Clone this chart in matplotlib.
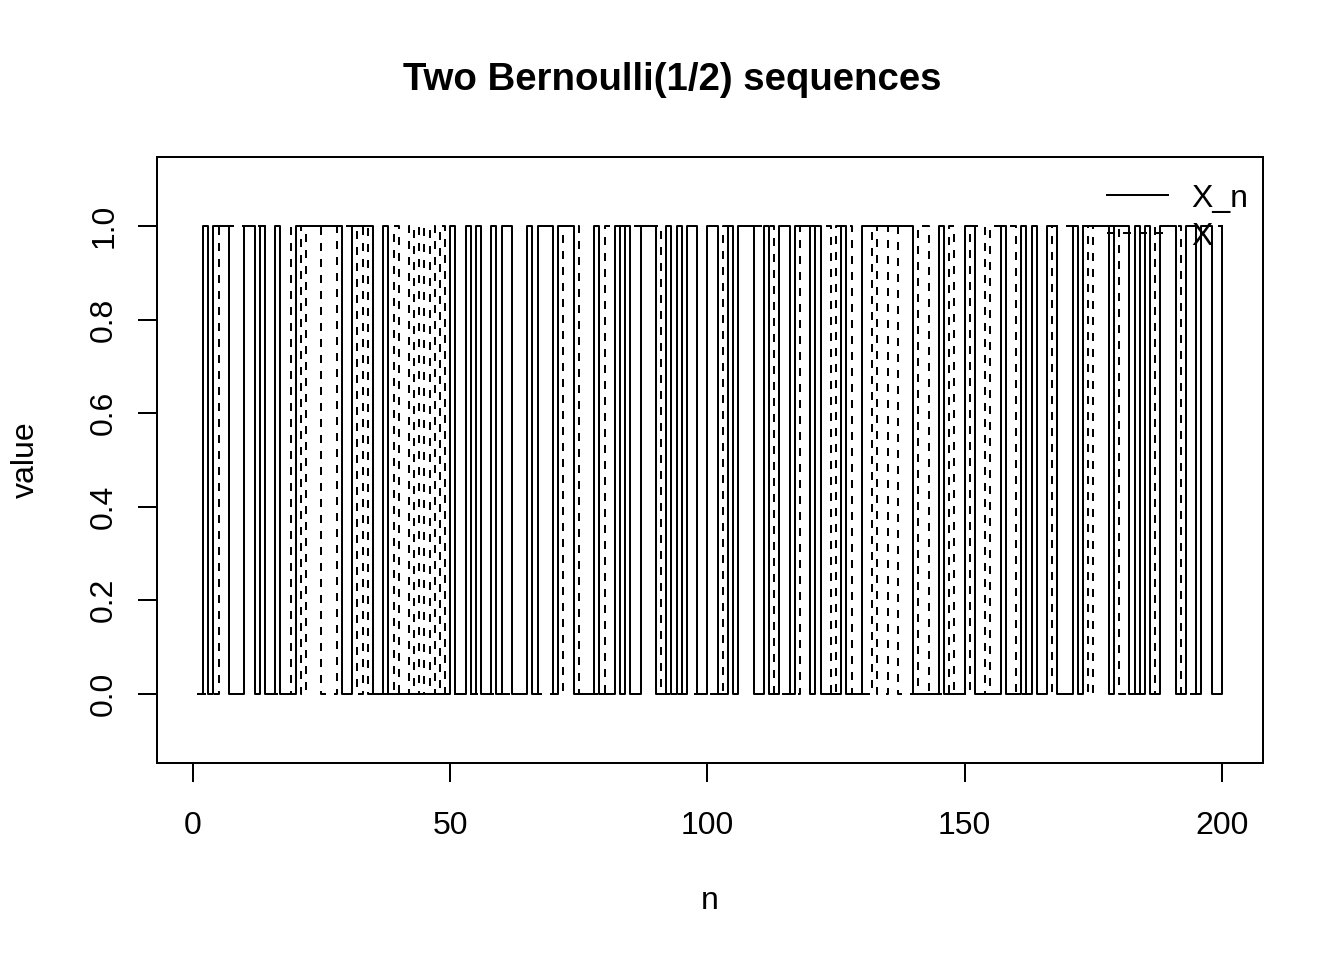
import matplotlib
matplotlib.use("Agg")
import matplotlib.pyplot as plt
import numpy as np
from matplotlib.lines import Line2D

plt.rcParams['font.family'] = ['Liberation Sans', 'DejaVu Sans']

n = list(range(1, 201))

x_n = [0,1,0,1,1,1,0,0,0,1,1,0,1,0,0,1,0,0,0,1,
       1,1,1,1,1,1,1,1,0,0,1,1,1,1,0,0,1,0,0,0,
       0,0,0,0,0,0,0,0,0,1,0,0,1,0,1,0,0,1,0,1,
       1,0,0,0,1,0,1,1,1,0,1,1,1,0,0,0,0,1,0,0,
       0,1,0,1,0,0,1,1,1,0,0,1,0,1,0,1,1,0,0,1,
       1,0,0,1,0,1,1,1,0,0,1,0,0,1,1,0,1,1,1,0,
       1,0,0,0,0,1,0,0,0,1,1,1,1,1,1,1,1,1,1,0,
       0,0,0,0,1,0,0,0,0,1,1,0,0,0,0,0,1,0,0,0,
       1,0,1,0,0,1,1,0,0,0,1,0,1,1,1,1,1,0,1,1,
       1,0,1,0,1,0,0,1,1,1,0,0,1,1,0,1,1,0,0,1]

x_lim = [0,0,0,0,1,1,1,1,1,1,1,1,1,0,0,0,0,0,1,1,
         0,1,1,1,0,0,0,1,1,1,1,0,1,0,0,0,0,0,1,0,
         0,1,0,1,0,1,0,1,0,0,0,0,0,0,0,0,0,0,0,0,
         0,0,0,0,0,0,0,0,0,0,0,1,1,1,0,0,0,0,0,1,
         1,1,1,1,1,1,1,1,1,1,0,0,0,0,0,0,0,0,0,0,
         0,0,1,1,1,1,1,1,1,1,1,1,0,0,0,0,0,1,1,1,
         1,1,1,0,1,1,1,0,0,0,0,1,0,0,1,1,0,0,0,0,
         1,1,0,0,0,0,1,0,0,0,1,1,1,0,1,1,1,1,1,0,
         0,0,0,0,0,0,1,1,1,1,1,1,1,0,1,1,1,1,1,0,
         0,0,0,0,0,0,1,1,1,1,1,0,0,0,1,1,1,1,1,1]

x_ticks = [0, 50, 100, 150, 200]
y_ticks = [0.0, 0.2, 0.4, 0.6, 0.8, 1.0]
labels = ["X_n", "X"]

fig = plt.figure(figsize=(7, 5), dpi=192)
ax = fig.add_axes([157/1344, 1-763/960, (1263-157)/1344, (763-157)/960])

lw = 0.75
ax.step(n, x_n, where='post', color='black', lw=lw, linestyle='-')
ax.step(n, x_lim, where='post', color='black', lw=lw, linestyle=(0, (4, 4)))

ax.set_xlim(1 - 199*0.04, 200 + 199*0.04)
ax.set_ylim(-0.1 - 1.2*0.04, 1.1 + 1.2*0.04)
ax.set_xticks(x_ticks)
ax.set_xticklabels([str(v) for v in x_ticks])
ax.set_yticks(y_ticks)
ax.set_yticklabels([f"{v:.1f}" for v in y_ticks], rotation=90, va='center')
ax.tick_params(axis='both', length=7.2, width=lw, labelsize=12, color='black')
ax.tick_params(axis='x', pad=10.7)
ax.tick_params(axis='y', pad=7)
for s in ax.spines.values():
    s.set_linewidth(lw)

ax.set_xlabel("n", fontsize=12, labelpad=17)
ax.set_ylabel("value", fontsize=12, labelpad=18)
fig.text(0.5, 1-80/960, "Two Bernoulli(1/2) sequences", ha='center', va='center',
         fontsize=14.4, fontweight='bold')

handles = [Line2D([], [], color='black', lw=lw, linestyle='-'),
           Line2D([], [], color='black', lw=lw, linestyle=(0, (4, 4)))]
ax.legend(handles, labels, loc='upper right', bbox_to_anchor=(1.0, 0.98),
          frameon=False, fontsize=12, handlelength=1.9, handletextpad=0.75,
          labelspacing=0.25, borderaxespad=0.05)

fig.savefig("out.png", dpi=192)
